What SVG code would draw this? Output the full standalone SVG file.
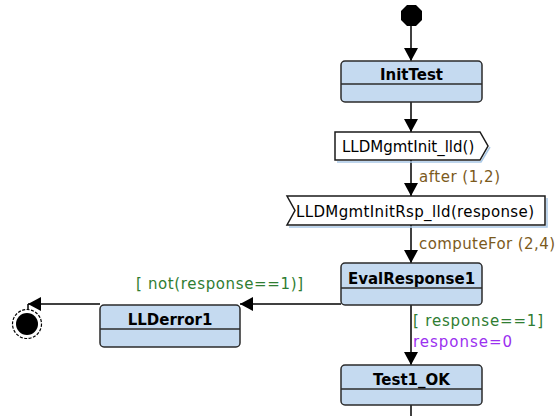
<svg xmlns="http://www.w3.org/2000/svg" width="557" height="416" viewBox="0 0 557 416">
<defs>
<style>
.st{fill:#c5daf0;stroke:#2b2b2b;stroke-width:1.5}
.div{stroke:#2b2b2b;stroke-width:1.5}
.title{font-family:"DejaVu Sans",sans-serif;font-weight:bold;font-size:15px;fill:#000;text-anchor:middle}
.sig{fill:#fff;stroke:#1a1a1a;stroke-width:1.5}
.shadow{fill:none;stroke:#a9c8e6;stroke-width:1.5}
.sigt{font-family:"DejaVu Sans",sans-serif;font-size:15px;fill:#000}
.edge{fill:none;stroke:#000;stroke-width:1.5}
.brown{font-family:"DejaVu Sans",sans-serif;font-size:15px;fill:#7b5a1c}
.green{font-family:"DejaVu Sans",sans-serif;font-size:15px;fill:#2f7d32}
.purple{font-family:"DejaVu Sans",sans-serif;font-size:15px;fill:#9b30f0}
</style>
<marker id="arr" markerUnits="userSpaceOnUse" markerWidth="14" markerHeight="14" refX="13" refY="7" orient="auto">
<path d="M0,0 L13,7 L0,14 z" fill="#000"/>
</marker>
</defs>
<g id="connectors">
<path class="edge" d="M411,26 L411,61" marker-end="url(#arr)"/>
<path class="edge" d="M411,102 L411,132" marker-end="url(#arr)"/>
<path class="edge" d="M411,160 L411,196" marker-end="url(#arr)"/>
<path class="edge" d="M411,225 L411,263" marker-end="url(#arr)"/>
<path class="edge" d="M341,304 L240,304" marker-end="url(#arr)"/>
<path class="edge" d="M100,304 L28,304" marker-end="url(#arr)"/>
<path class="edge" d="M28,304 L28,310"/>
<path class="edge" d="M411,305 L411,365" marker-end="url(#arr)"/>
<path class="edge" d="M411,405 L411,416"/>
<text class="brown" x="419" y="182" textLength="81">after (1,2)</text>
<text class="brown" x="419" y="249" textLength="136">computeFor (2,4)</text>
<text class="green" x="136" y="289" textLength="167">[ not(response==1)]</text>
<text class="green" x="413" y="326" textLength="130">[ response==1]</text>
<text class="purple" x="413" y="347" textLength="99">response=0</text>
</g>
<g id="start">
<path d="M407,5 L416,5 L422,11 L422,20 L416,26 L407,26 L401,20 L401,11 Z" fill="#000"/>
</g>
<g id="InitTest">
<rect class="st" x="341" y="61" width="141" height="41" rx="4"/>
<line class="div" x1="341" y1="84" x2="482" y2="84"/>
<text class="title" x="411.5" y="80">InitTest</text>
</g>
<g id="LLDMgmtInit_lld">
<polyline class="shadow" points="337,162 481,162 490,147"/>
<polygon class="sig" points="335,132 480,132 488,146 480,160 335,160"/>
<text class="sigt" x="342" y="152">LLDMgmtInit_lld()</text>
</g>
<g id="LLDMgmtInitRsp_lld">
<polyline class="shadow" points="289,227 547,227 547,198"/>
<polygon class="sig" points="287,196 545,196 545,225 287,225 295,210.5"/>
<text class="sigt" x="296" y="217" textLength="238">LLDMgmtInitRsp_lld(response)</text>
</g>
<g id="EvalResponse1">
<rect class="st" x="341" y="263" width="141" height="42" rx="4"/>
<line class="div" x1="341" y1="288" x2="482" y2="288"/>
<text class="title" x="411.5" y="284">EvalResponse1</text>
</g>
<g id="LLDerror1">
<rect class="st" x="100" y="305" width="140" height="42" rx="4"/>
<line class="div" x1="100" y1="329" x2="240" y2="329"/>
<text class="title" x="170" y="325">LLDerror1</text>
</g>
<g id="Test1_OK">
<rect class="st" x="341" y="365" width="141" height="40" rx="4"/>
<line class="div" x1="341" y1="389" x2="482" y2="389"/>
<text class="title" x="411.5" y="385">Test1_OK</text>
</g>
<g id="final">
<circle cx="27" cy="324" r="14.5" fill="#fff" stroke="#000" stroke-width="1.2" stroke-dasharray="3,1.5"/>
<circle cx="27" cy="324" r="11" fill="#000"/>
</g>
</svg>
